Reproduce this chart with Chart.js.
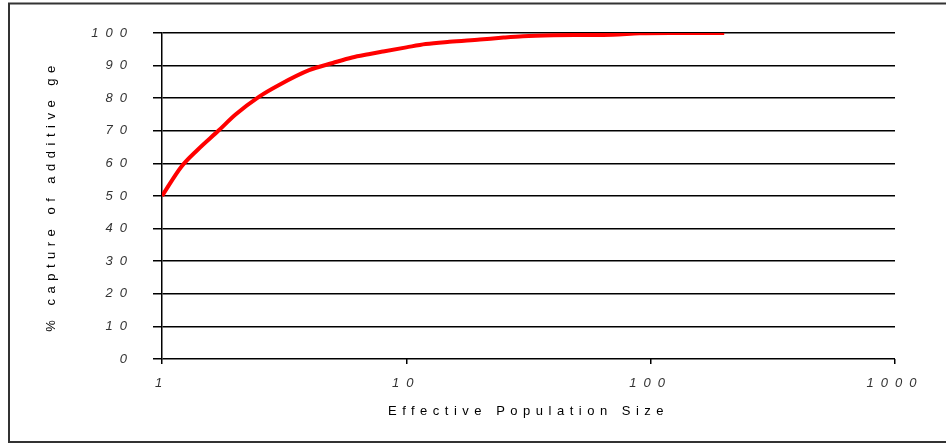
<!DOCTYPE html>
<html>
<head>
<meta charset="utf-8">
<script src="https://cdn.jsdelivr.net/npm/chart.js@4/dist/chart.umd.min.js"></script>
<style>
  body { margin: 0; background: #fff; overflow: hidden; }
  .wrap { position: relative; width: 946px; height: 444px; }
</style>
</head>
<body>
<div class="wrap"><canvas id="chart"></canvas></div>
<script>
// effective population size (x) vs % capture of additive genetic variance (y)
const popSizes = [1, 1.2, 1.4, 1.7, 2, 2.5, 3, 4, 5, 6, 7, 8, 10, 12, 15, 20, 25, 30, 40, 50, 70, 90, 120, 150, 200];
const captured = [50, 59, 64.2, 70, 75, 80.5, 84, 88.6, 90.8, 92.5, 93.5, 94.3, 95.6, 96.6, 97.3, 98, 98.6, 99, 99.3, 99.4, 99.5, 99.9, 100, 100, 100];
const xTicks = [1, 10, 100, 1000];
const yTitle = '% capture of additive ge';
const xTitle = 'Effective Population Size';

const points = popSizes.map((x, i) => ({ x: x, y: captured[i] }));

// canvas letterSpacing for labels / titles
const spacingPlugin = {
  id: 'spacing',
  afterLayout(chart) {
    Object.values(chart.scales).forEach(s => {
      if (s._spaced) return;
      s._spaced = true;
      const ctx = chart.ctx;
      const dl = s.drawLabels, dt = s.drawTitle;
      s.drawLabels = function (...a) { ctx.save(); ctx.letterSpacing = '7px'; dl.apply(this, a); ctx.restore(); };
      s.drawTitle = function (...a) { ctx.save(); ctx.letterSpacing = '5.5px'; dt.apply(this, a); ctx.restore(); };
    });
  },
  beforeDraw(chart) {
    const ctx = chart.ctx;
    ctx.save();
    ctx.strokeStyle = '#333';
    ctx.lineWidth = 2;
    ctx.strokeRect(9, 3.5, 1000, 438.5);
    ctx.restore();
  }
};

const tickFont = { family: 'Liberation Sans, Arial', size: 13, style: 'italic' };
const titleFont = { family: 'Liberation Sans, Arial', size: 13 };

new Chart(document.getElementById('chart'), {
  type: 'line',
  data: {
    datasets: [{
      data: points,
      borderColor: '#ff0000',
      borderWidth: 4,
      pointRadius: 0,
      cubicInterpolationMode: 'monotone',
      fill: false
    }]
  },
  options: {
    responsive: true,
    maintainAspectRatio: false,
    animation: false,
    layout: { padding: { left: 40, right: 51, top: 33, bottom: 21 } },
    plugins: { legend: { display: false }, tooltip: { enabled: false } },
    scales: {
      x: {
        type: 'logarithmic',
        min: 1,
        max: 1000,
        afterBuildTicks: s => { s.ticks = xTicks.map(v => ({ value: v })); },
        afterFit: s => { s.height = 64; },
        ticks: {
          autoSkip: false,
          maxRotation: 0,
          padding: 12,
          color: '#333',
          font: tickFont,
          callback: v => String(v)
        },
        grid: { drawOnChartArea: false, drawTicks: true, tickLength: 5, color: '#000', lineWidth: 1.5 },
        border: { display: false },
        title: { display: true, text: xTitle, color: '#000', font: titleFont }
      },
      y: {
        min: 0,
        max: 100,
        afterFit: s => { s.width = 122; },
        ticks: { stepSize: 10, padding: 19, color: '#333', font: tickFont },
        grid: { color: '#000', lineWidth: 1.5, tickLength: 9 },
        border: { display: true, color: '#000', width: 1.5 },
        title: { display: true, text: yTitle, color: '#000', font: titleFont }
      }
    }
  },
  plugins: [spacingPlugin]
});
</script>
</body>
</html>
